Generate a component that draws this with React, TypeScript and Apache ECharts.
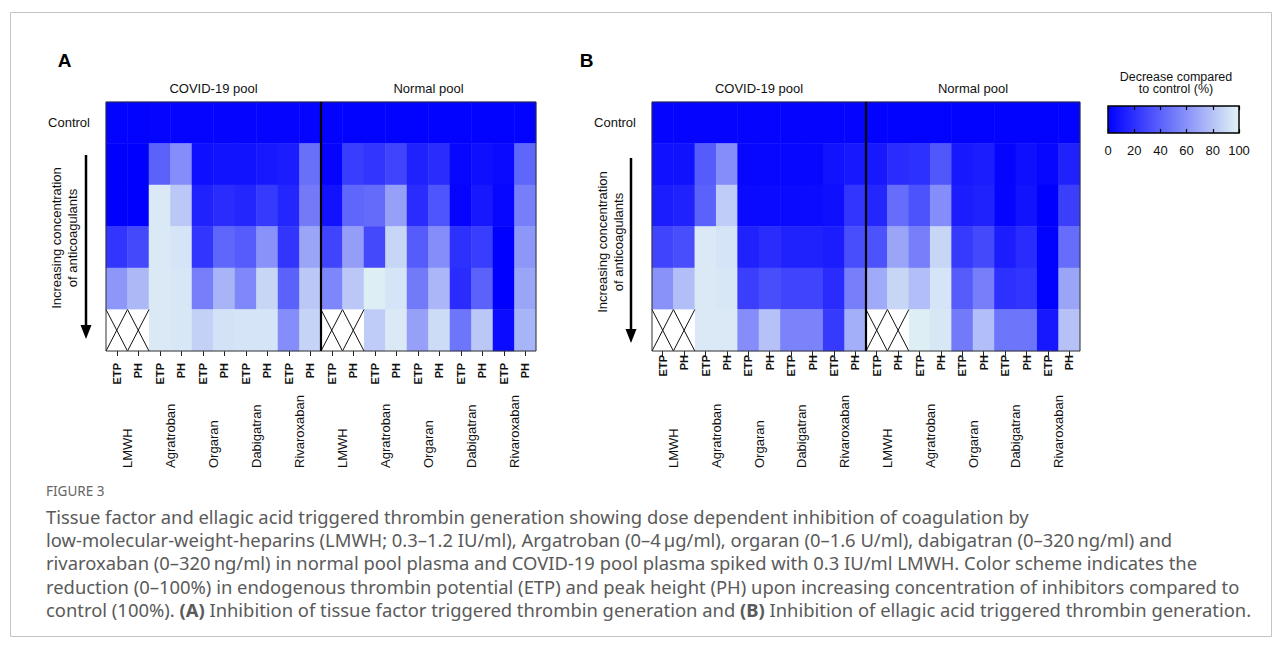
import React, { useEffect, useRef } from "react";
import * as echarts from "echarts";

// ---------- data ----------
const columns = ["ETP", "PH", "ETP", "PH", "ETP", "PH", "ETP", "PH", "ETP", "PH", "ETP", "PH", "ETP", "PH", "ETP", "PH", "ETP", "PH", "ETP", "PH"];
const drugs = ["LMWH", "Agratroban", "Orgaran", "Dabigatran", "Rivaroxaban", "LMWH", "Agratroban", "Orgaran", "Dabigatran", "Rivaroxaban"];
const pools = ["COVID-19 pool", "Normal pool"];
const rows = ["Control", "", "", "", "", ""];
const scaleMin = 0;
const scaleMax = 100;
const scaleStep = 20;

// (A) tissue factor triggered — decrease compared to control (%); null = not measured
const tfCovid = [
  [1, 1, 2, 2, 2, 2, 2, 2, 2, 2],
  [0, 0, 40, 58, 6, 8, 8, 10, 12, 46],
  [0, 0, 96, 82, 14, 18, 16, 24, 16, 50],
  [22, 30, 96, 94, 22, 42, 38, 60, 22, 68],
  [62, 76, 96, 95, 52, 74, 56, 88, 40, 82],
  [null, null, 96, 95, 86, 93, 94, 94, 58, 87],
];
const tfNormal = [
  [1, 1, 1, 1, 1, 1, 1, 1, 1, 1],
  [2, 25, 22, 28, 14, 18, 3, 6, 4, 42],
  [8, 42, 44, 66, 18, 35, 2, 10, 3, 52],
  [28, 65, 30, 88, 38, 58, 20, 25, 0, 62],
  [55, 82, 98, 94, 50, 75, 18, 40, 0, 68],
  [null, null, 84, 96, 66, 90, 48, 82, 5, 74],
];
// (B) ellagic acid triggered
const eaCovid = [
  [2, 2, 2, 2, 2, 2, 2, 2, 2, 2],
  [7, 7, 38, 58, 3, 3, 3, 3, 8, 10],
  [12, 14, 40, 84, 4, 4, 4, 5, 6, 22],
  [28, 32, 96, 94, 14, 18, 14, 14, 12, 32],
  [60, 78, 96, 95, 26, 32, 28, 28, 18, 52],
  [null, null, 96, 96, 58, 80, 54, 54, 24, 72],
];
const eaNormal = [
  [1, 1, 1, 1, 1, 1, 1, 1, 1, 1],
  [10, 18, 20, 36, 10, 12, 2, 6, 3, 14],
  [16, 45, 34, 58, 12, 14, 2, 8, 0, 26],
  [34, 68, 52, 88, 24, 30, 12, 18, 1, 45],
  [70, 88, 78, 94, 38, 52, 20, 22, 1, 68],
  [null, null, 98, 95, 50, 78, 48, 48, 10, 80],
];

const captionTitle = "FIGURE 3";
const captionLines = [
  "Tissue factor and ellagic acid triggered thrombin generation showing dose dependent inhibition of coagulation by",
  "low-molecular-weight-heparins (LMWH; 0.3–1.2 IU/ml), Argatroban (0–4\u2009µg/ml), orgaran (0–1.6 U/ml), dabigatran (0–320\u2009ng/ml) and",
  "rivaroxaban (0–320\u2009ng/ml) in normal pool plasma and COVID-19 pool plasma spiked with 0.3 IU/ml LMWH. Color scheme indicates the",
  "reduction (0–100%) in endogenous thrombin potential (ETP) and peak height (PH) upon increasing concentration of inhibitors compared to",
  "control (100%). {b|(A)} Inhibition of tissue factor triggered thrombin generation and {b|(B)} Inhibition of ellagic acid triggered thrombin generation.",
];

// ---------- helpers ----------
function buildHeat(covid: (number | null)[][], normal: (number | null)[][]) {
  const out: any[] = [];
  rows.forEach((_, r) => {
    const full = [...covid[r], ...normal[r]];
    full.forEach((v, c) => out.push([c, r, v === null ? "-" : v]));
  });
  return out;
}
function buildMissing(covid: (number | null)[][], normal: (number | null)[][]) {
  const out: number[][] = [];
  rows.forEach((_, r) => {
    const full = [...covid[r], ...normal[r]];
    full.forEach((v, c) => {
      if (v === null) out.push([c, r]);
    });
  });
  return out;
}

const FONT = "'Liberation Sans', Arial, Helvetica, sans-serif";
const CAPFONT = "'Noto Sans', 'Open Sans', sans-serif";
const CAPSIZE = 18.4;

const crossItem = (params: any, api: any) => {
  const c = api.coord([api.value(0), api.value(1)]);
  const s = api.size([1, 1]);
  const x0 = c[0] - s[0] / 2, y0 = c[1] - s[1] / 2, x1 = c[0] + s[0] / 2, y1 = c[1] + s[1] / 2;
  return {
    type: "group",
    children: [
      { type: "rect", shape: { x: x0, y: y0, width: s[0], height: s[1] }, style: { fill: "#ffffff" } },
      { type: "line", shape: { x1: x0, y1: y0, x2: x1, y2: y1 }, style: { stroke: "#111", lineWidth: 1 } },
      { type: "line", shape: { x1: x1, y1: y0, x2: x0, y2: y1 }, style: { stroke: "#111", lineWidth: 1 } },
    ],
  };
};
const frameItem = (params: any, api: any) => {
  const s = api.size([1, 1]);
  const tl = api.coord([0, 0]);
  const br = api.coord([columns.length - 1, rows.length - 1]);
  const x0 = tl[0] - s[0] / 2, y0 = tl[1] - s[1] / 2, x1 = br[0] + s[0] / 2, y1 = br[1] + s[1] / 2;
  const split = api.coord([columns.length / 2 - 1, 0])[0] + s[0] / 2;
  return {
    type: "group",
    children: [
      { type: "rect", shape: { x: x0, y: y0, width: x1 - x0, height: y1 - y0 }, style: { fill: "transparent", stroke: "#333", lineWidth: 1 } },
      { type: "line", shape: { x1: split, y1: y0, x2: split, y2: y1 }, style: { stroke: "#000", lineWidth: 2.2 } },
    ],
  };
};

function panelAxes(gridIndex: number, labelMargin: number) {
  return [
    {
      gridIndex, type: "category", data: columns, position: "bottom",
      axisLine: { show: false },
      axisTick: { show: true, alignWithLabel: true, length: 5, lineStyle: { color: "#222" } },
      axisLabel: { rotate: 90, interval: 0, fontWeight: "bold", fontSize: 11, margin: labelMargin, color: "#111", fontFamily: FONT },
      splitLine: { show: false },
    },
    {
      gridIndex, type: "category", data: drugs, position: "bottom",
      axisLine: { show: false }, axisTick: { show: false },
      axisLabel: { rotate: 90, interval: 0, align: "left", verticalAlign: "middle", margin: 117, fontSize: 13, color: "#111", fontFamily: FONT },
      splitLine: { show: false },
    },
    {
      gridIndex, type: "category", data: pools, position: "top",
      axisLine: { show: false }, axisTick: { show: false },
      axisLabel: { interval: 0, margin: 7, fontSize: 13, color: "#111", fontFamily: FONT },
      splitLine: { show: false },
    },
  ];
}
function panelY(gridIndex: number) {
  return {
    gridIndex, type: "category", data: rows, inverse: true,
    axisLine: { show: false }, axisTick: { show: false },
    axisLabel: { interval: 0, margin: 16, fontSize: 13, color: "#111", fontFamily: FONT, padding: [0, 0, 8, 0] },
    splitLine: { show: false },
  };
}

export default function App() {
  const ref = useRef<HTMLDivElement>(null);
  useEffect(() => {
    document.body.style.margin = "0";
    document.body.style.background = "#fff";
    if (!ref.current) return;
    const chart = echarts.init(ref.current, undefined, { renderer: "svg" });
    const heatA = buildHeat(tfCovid, tfNormal);
    const heatB = buildHeat(eaCovid, eaNormal);
    const missA = buildMissing(tfCovid, tfNormal);
    const missB = buildMissing(eaCovid, eaNormal);

    const captionText = captionLines.map((t, i) => ({
      type: "text", left: 46, top: 507 + i * 23.4,
      style: {
        text: t, fill: "#5a5a5a", font: `${CAPSIZE}px ${CAPFONT}`,
        rich: { b: { fontWeight: "bold", fontSize: CAPSIZE, fontFamily: CAPFONT, fill: "#5a5a5a" } },
      },
    }));

    const option: any = {
      animation: false,
      backgroundColor: "#ffffff",
      textStyle: { fontFamily: FONT },
      grid: [
        { left: 106, top: 102, width: 430, height: 249 },
        { left: 652, top: 102, width: 428, height: 249 },
        { left: 1108, top: 106, width: 131, height: 27, show: true, borderColor: "#000", borderWidth: 1.5, backgroundColor: "transparent", z: 10 },
      ],
      xAxis: [
        ...panelAxes(0, 12),
        ...panelAxes(1, 4),
        {
          gridIndex: 2, type: "value", min: scaleMin, max: scaleMax, interval: scaleStep, position: "bottom", z: 10,
          axisLine: { show: false }, splitLine: { show: false },
          axisTick: { show: true, inside: true, length: 4, lineStyle: { color: "#000", width: 1.2 } },
          axisLabel: { margin: 11, fontSize: 13, color: "#111", fontFamily: FONT },
        },
        {
          gridIndex: 2, type: "value", min: scaleMin, max: scaleMax, interval: scaleStep, position: "top", z: 10,
          axisLine: { show: false }, splitLine: { show: false },
          axisTick: { show: true, inside: true, length: 4, lineStyle: { color: "#000", width: 1.2 } },
          axisLabel: { show: false },
        },
      ],
      yAxis: [panelY(0), panelY(1), { gridIndex: 2, type: "value", min: 0, max: 1, show: false }],
      visualMap: {
        type: "continuous", min: scaleMin, max: scaleMax, seriesIndex: [0, 1], orient: "horizontal",
        left: 1108, top: 106, itemWidth: 27, itemHeight: 131, padding: 0, calculable: false, hoverLink: false,
        inRange: { color: ["#0000ff", "#e3f3f5"] },
      },
      series: [
        { type: "heatmap", xAxisIndex: 0, yAxisIndex: 0, data: heatA, emphasis: { disabled: true }, silent: true },
        { type: "heatmap", xAxisIndex: 3, yAxisIndex: 1, data: heatB, emphasis: { disabled: true }, silent: true },
        { type: "custom", xAxisIndex: 0, yAxisIndex: 0, data: missA, renderItem: crossItem, silent: true, z: 3 },
        { type: "custom", xAxisIndex: 3, yAxisIndex: 1, data: missB, renderItem: crossItem, silent: true, z: 3 },
        { type: "custom", xAxisIndex: 0, yAxisIndex: 0, data: [[0, 0]], renderItem: frameItem, silent: true, z: 4 },
        { type: "custom", xAxisIndex: 3, yAxisIndex: 1, data: [[0, 0]], renderItem: frameItem, silent: true, z: 4 },
      ],
      graphic: [
        { type: "rect", shape: { x: 10.5, y: 12.5, width: 1261, height: 624 }, style: { fill: "transparent", stroke: "#c4c4c4", lineWidth: 1 }, z: -10 },
        { type: "text", x: 64.5, y: 60, style: { text: "A", font: `bold 19px ${FONT}`, fill: "#000", align: "center", verticalAlign: "middle" } },
        { type: "text", x: 586.5, y: 60, style: { text: "B", font: `bold 19px ${FONT}`, fill: "#000", align: "center", verticalAlign: "middle" } },
        {
          type: "text", x: 64, y: 238, rotation: Math.PI / 2,
          style: { text: "Increasing concentration\nof anticoagulants", font: `13px ${FONT}`, lineHeight: 16, fill: "#111", align: "center", verticalAlign: "middle" },
        },
        {
          type: "text", x: 610, y: 242, rotation: Math.PI / 2,
          style: { text: "Increasing concentration\nof anticoagulants", font: `13px ${FONT}`, lineHeight: 16, fill: "#111", align: "center", verticalAlign: "middle" },
        },
        { type: "line", shape: { x1: 86, y1: 155, x2: 86, y2: 328 }, style: { stroke: "#000", lineWidth: 2.5 } },
        { type: "polygon", shape: { points: [[80.5, 325], [91.5, 325], [86, 339]] }, style: { fill: "#000" } },
        { type: "line", shape: { x1: 631, y1: 158, x2: 631, y2: 332 }, style: { stroke: "#000", lineWidth: 2.5 } },
        { type: "polygon", shape: { points: [[625.5, 329], [636.5, 329], [631, 343]] }, style: { fill: "#000" } },
        {
          type: "text", x: 1176, y: 83,
          style: { text: "Decrease compared\nto control (%)", font: `12.5px ${FONT}`, lineHeight: 12, fill: "#111", align: "center", verticalAlign: "middle" },
        },
        { type: "text", left: 46, top: 484, style: { text: captionTitle, font: `13.5px ${CAPFONT}`, fill: "#666" } },
        ...captionText,
      ],
    };
    chart.setOption(option);
    return () => chart.dispose();
  }, []);
  return <div ref={ref} style={{ width: 1282, height: 648 }} />;
}
